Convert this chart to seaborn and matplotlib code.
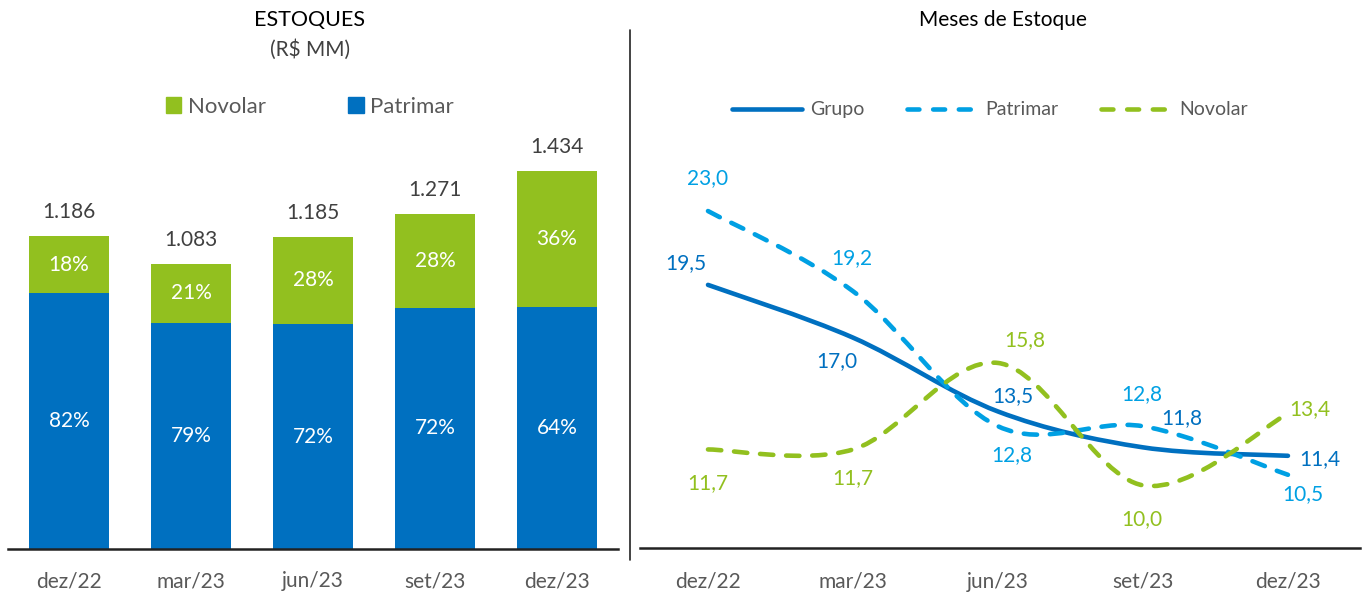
import matplotlib
matplotlib.use("Agg")
import numpy as np
import pandas as pd
import seaborn as sns
import matplotlib.pyplot as plt
from matplotlib.path import Path
from matplotlib.patches import PathPatch, Patch
from matplotlib.lines import Line2D

sns.set_theme(style="white")
plt.rcParams["font.family"] = ["Lato", "DejaVu Sans"]

# --- data ---
periods = ["dez/22", "mar/23", "jun/23", "set/23", "dez/23"]
estoque_total = [1186, 1083, 1185, 1271, 1434]
pct_novolar = [18, 21, 28, 28, 36]
pct_patrimar = [82, 79, 72, 72, 64]

meses_grupo = [19.5, 17.0, 13.5, 11.8, 11.4]
meses_patrimar = [23.0, 19.2, 12.8, 12.8, 10.5]
meses_novolar = [11.7, 11.7, 15.8, 10.0, 13.4]

BLUE = "#0070C0"
LIGHT_BLUE = "#00A0E3"
GREEN = "#92C01F"
TEXT = "#404040"
GRAY = "#595959"

W, H = 1367, 594
fig = plt.figure(figsize=(W / 100, H / 100), dpi=100)


def px_axes(x0, x1, ytop, ybot):
    return fig.add_axes([x0 / W, (H - ybot) / H, (x1 - x0) / W, (ybot - ytop) / H])


# ---------------- left: stacked bars ----------------
df = pd.DataFrame({"periodo": periods, "total": estoque_total,
                   "pct_nov": pct_novolar, "pct_pat": pct_patrimar})
df["patrimar"] = df["total"] * df["pct_pat"] / 100

ax1 = px_axes(8, 618, 130, 549)
sns.barplot(df, x="periodo", y="total", color=GREEN, width=0.656,
            saturation=1, linewidth=0, ax=ax1)
sns.barplot(df, x="periodo", y="patrimar", color=BLUE, width=0.656,
            saturation=1, linewidth=0, ax=ax1)
ax1.set_ylim(0, 419 / 0.2636)
ax1.set_xlim(-0.5, 4.5)
ax1.set(xlabel="", ylabel="")
ax1.set_yticks([])
for s in ["top", "right", "left"]:
    ax1.spines[s].set_visible(False)
ax1.spines["bottom"].set_color("#222222")
ax1.spines["bottom"].set_linewidth(1.8)
ax1.tick_params(axis="x", length=0, pad=16, labelsize=15, labelcolor=GRAY)

for i, row in df.iterrows():
    ax1.annotate(f"{row.total:,}".replace(",", "."), (i, row.total),
                 xytext=(0, 24), textcoords="offset pixels",
                 ha="center", va="center", fontsize=15, color=TEXT)
    ax1.text(i, (row.total + row.patrimar) / 2, f"{row.pct_nov}%",
             ha="center", va="center", fontsize=15, color="white")
    ax1.text(i, row.patrimar / 2, f"{row.pct_pat}%",
             ha="center", va="center", fontsize=15, color="white")

leg1 = fig.legend(handles=[Patch(color=GREEN, label="Novolar"),
                           Patch(color=BLUE, label="Patrimar")],
                  loc="center", bbox_to_anchor=(310 / W, 1 - 107 / H),
                  ncol=2, frameon=False, fontsize=16, handlelength=0.7,
                  handleheight=0.7, handletextpad=0.3, columnspacing=3.7)
for t in leg1.get_texts():
    t.set_color(GRAY)

fig.text(310 / W, 1 - 20 / H, "ESTOQUES", ha="center", va="center",
         fontsize=15.5, color="black")
fig.text(310 / W, 1 - 50 / H, "(R$ MM)", ha="center", va="center",
         fontsize=15, color=TEXT)

# separator
fig.add_artist(Line2D([630 / W, 630 / W], [1 - 30 / H, 1 - 560 / H],
                      color="#222222", lw=1.2))

# ---------------- right: smoothed lines ----------------
ax2 = px_axes(640, 1360, 150, 548)
x = np.arange(len(periods))


def smooth_path(xs, ys):
    verts = [(xs[0], ys[0])]
    codes = [Path.MOVETO]
    n = len(xs)
    for i in range(n - 1):
        a = i - 1 if i > 0 else i
        d = i + 2 if i + 2 < n else i + 1
        c1 = (xs[i] + (xs[i + 1] - xs[a]) / 6, ys[i] + (ys[i + 1] - ys[a]) / 6)
        c2 = (xs[i + 1] - (xs[d] - xs[i]) / 6, ys[i + 1] - (ys[d] - ys[i]) / 6)
        verts += [c1, c2, (xs[i + 1], ys[i + 1])]
        codes += [Path.CURVE4] * 3
    return Path(verts, codes)


series = [
    (meses_grupo, BLUE, "-"),
    (meses_patrimar, LIGHT_BLUE, (0, (2.9, 2.8))),
    (meses_novolar, GREEN, (0, (2.9, 2.8))),
]
for vals, col, ls in series:
    pp = PathPatch(smooth_path(x, vals), fill=False, edgecolor=col,
                   lw=3.3, linestyle=ls, capstyle="round", joinstyle="round")
    ax2.add_patch(pp)

ax2.set_xlim(-0.469, 4.497)
ax2.set_ylim(7.03, 7.03 + 398 / 21.1)
ax2.set_xticks(x)
ax2.set_xticklabels(periods)
ax2.set_yticks([])
for s in ["top", "right", "left"]:
    ax2.spines[s].set_visible(False)
ax2.spines["bottom"].set_color("#222222")
ax2.spines["bottom"].set_linewidth(1.8)
ax2.tick_params(axis="x", length=0, pad=17, labelsize=15, labelcolor=GRAY)


def lbl(v, xi, dx, dy, col):
    ax2.annotate(f"{v:.1f}".replace(".", ","), (xi, v), xytext=(dx, -dy),
                 textcoords="offset pixels", ha="center", va="center",
                 fontsize=15, color=col)


grupo_off = [(-22, -22), (-16, 23), (15, -15), (39, -29), (32, 3)]
patrimar_off = [(0, -33), (-1, -33), (14, 29), (-1, -32), (15, 19)]
novolar_off = [(0, 34), (0, 29), (27, -23), (-1, 34), (22, -4)]
for vals, offs, col in [(meses_grupo, grupo_off, BLUE),
                        (meses_patrimar, patrimar_off, LIGHT_BLUE),
                        (meses_novolar, novolar_off, GREEN)]:
    for i, v in enumerate(vals):
        lbl(v, i, offs[i][0], offs[i][1], col)

handles = [
    Line2D([], [], color=BLUE, lw=3.3, solid_capstyle="round", label="Grupo"),
    Line2D([], [], color=LIGHT_BLUE, lw=3.3, dashes=(2.6, 3.0),
           dash_capstyle="round", label="Patrimar"),
    Line2D([], [], color=GREEN, lw=3.3, dashes=(2.6, 3.0),
           dash_capstyle="round", label="Novolar"),
]
leg2 = fig.legend(handles=handles, loc="center",
                  bbox_to_anchor=(990 / W, 1 - 110 / H), ncol=3,
                  frameon=False, fontsize=14, handlelength=3.6,
                  handletextpad=0.4, columnspacing=2.2)
for t in leg2.get_texts():
    t.set_color(GRAY)

fig.text(1003 / W, 1 - 20 / H, "Meses de Estoque", ha="center",
         va="center", fontsize=15, color="black")

fig.savefig("out.png", dpi=100)
